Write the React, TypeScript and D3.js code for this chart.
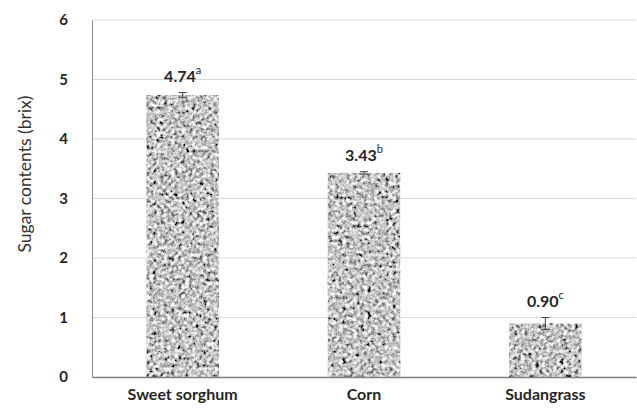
import React, { useRef, useEffect } from "react";
import * as d3 from "d3";

const crops = ["Sweet sorghum", "Corn", "Sudangrass"];
const sugar = [4.74, 3.43, 0.9];
const errs = [0.04, 0.02, 0.1];
const letters = ["a", "b", "c"];
const yTicks = [0, 1, 2, 3, 4, 5, 6];

const W = 637;
const H = 416;
const margin = { top: 20, right: 1, bottom: 39, left: 92 };

export default function App() {
  const svgRef = useRef<SVGSVGElement>(null);

  useEffect(() => {
    const svg = d3.select(svgRef.current);
    svg.selectAll("*").remove();

    const font = "Lato, 'Open Sans', sans-serif";

    // grey speckle texture for the bars
    const defs = svg.append("defs");
    const f = defs.append("filter").attr("id", "speckle")
      .attr("x", 0).attr("y", 0).attr("width", "100%").attr("height", "100%");
    f.append("feTurbulence").attr("type", "fractalNoise")
      .attr("baseFrequency", 0.28).attr("numOctaves", 3).attr("seed", 7).attr("result", "t");
    f.append("feColorMatrix").attr("in", "t").attr("type", "matrix")
      .attr("values", "1.1 1.1 1.1 0 -1.1  1.1 1.1 1.1 0 -1.1  1.1 1.1 1.1 0 -1.1  0 0 0 0 1")
      .attr("result", "g");
    f.append("feGaussianBlur").attr("in", "g").attr("stdDeviation", 0.6).attr("result", "b");
    f.append("feComposite").attr("in", "b").attr("in2", "SourceGraphic").attr("operator", "in");

    const x = d3.scaleBand()
      .domain(crops)
      .range([margin.left, W - margin.right])
      .paddingInner(0.6)
      .paddingOuter(0.3);

    const y = d3.scaleLinear()
      .domain([0, 6])
      .range([H - margin.bottom, margin.top]);

    // gridlines
    svg.append("g")
      .selectAll("line")
      .data(yTicks.slice(1))
      .join("line")
      .attr("x1", margin.left)
      .attr("x2", W - margin.right)
      .attr("y1", d => y(d))
      .attr("y2", d => y(d))
      .attr("stroke", "#d9d9d9")
      .attr("stroke-width", 1);

    // y axis
    const yAxis = d3.axisLeft(y).tickValues(yTicks).tickSize(0).tickPadding(24).tickFormat(d3.format("d"));
    const gy = svg.append("g")
      .attr("transform", `translate(${margin.left},0)`)
      .call(yAxis);
    gy.select(".domain").attr("stroke", "#8c8c8c");
    gy.selectAll("text")
      .attr("font-family", font)
      .attr("font-size", 15)
      .attr("font-weight", "bold")
      .attr("fill", "#262626");

    // bars
    svg.append("g")
      .selectAll("rect")
      .data(crops)
      .join("rect")
      .attr("x", d => x(d)!)
      .attr("width", x.bandwidth())
      .attr("y", (d, i) => y(sugar[i]))
      .attr("height", (d, i) => y(0) - y(sugar[i]))
      .attr("fill", "#999")
      .attr("filter", "url(#speckle)");

    // error bars
    const eb = svg.append("g").attr("stroke", "#404040").attr("stroke-width", 1);
    crops.forEach((c, i) => {
      const cx = x(c)! + x.bandwidth() / 2;
      const y1 = y(sugar[i] + errs[i]);
      const y2 = y(sugar[i] - errs[i]);
      eb.append("line").attr("x1", cx).attr("x2", cx).attr("y1", y1).attr("y2", y2);
      eb.append("line").attr("x1", cx - 4).attr("x2", cx + 4).attr("y1", y1).attr("y2", y1);
      eb.append("line").attr("x1", cx - 4).attr("x2", cx + 4).attr("y1", y2).attr("y2", y2);
    });

    // x axis
    const xAxis = d3.axisBottom(x).tickSize(0).tickPadding(12);
    const gx = svg.append("g")
      .attr("transform", `translate(0,${y(0)})`)
      .call(xAxis);
    gx.select(".domain").attr("stroke", "#7f7f7f").attr("stroke-width", 1.5);
    gx.selectAll("text")
      .attr("font-family", font)
      .attr("font-size", 16)
      .attr("font-weight", "bold")
      .attr("fill", "#262626");

    // value labels
    const lab = svg.append("g")
      .selectAll("text")
      .data(crops)
      .join("text")
      .attr("x", d => x(d)! + x.bandwidth() / 2)
      .attr("y", (d, i) => y(sugar[i] + errs[i]) - 11)
      .attr("text-anchor", "middle")
      .attr("font-family", font)
      .attr("font-size", 16)
      .attr("font-weight", "bold")
      .attr("fill", "#262626");
    lab.append("tspan").text((d, i) => sugar[i].toFixed(2));
    lab.append("tspan")
      .attr("dy", -8)
      .attr("font-size", 11)
      .attr("font-weight", "normal")
      .text((d, i) => letters[i]);

    // y title
    svg.append("text")
      .attr("transform", `translate(31,174) rotate(-90)`)
      .attr("text-anchor", "middle")
      .attr("font-family", font)
      .attr("font-size", 17.5)
      .attr("fill", "#333")
      .text("Sugar contents (brix)");
  }, []);

  return (
    <div style={{ position: "absolute", left: 0, top: 0, background: "#fff" }}>
      <svg ref={svgRef} width={W} height={H} />
    </div>
  );
}
